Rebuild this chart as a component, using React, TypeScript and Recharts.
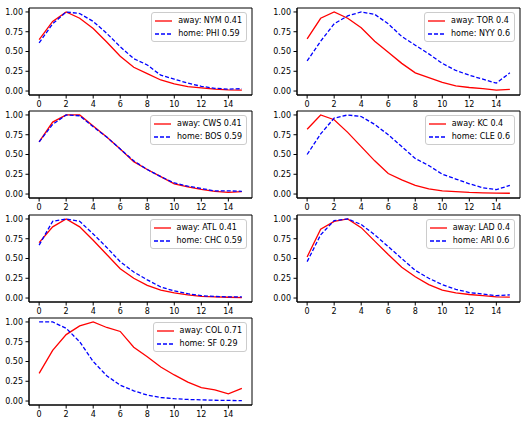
import React from 'react';
import { LineChart, Line, XAxis, YAxis, Legend, ReferenceArea } from 'recharts';

// innings / x positions
const innings = [0, 1, 2, 3, 4, 5, 6, 7, 8, 9, 10, 11, 12, 13, 14, 15];

const nymAway = [0.65, 0.88, 1.0, 0.92, 0.79, 0.62, 0.44, 0.3, 0.22, 0.14, 0.09, 0.055, 0.04, 0.025, 0.015, 0.012];
const phiHome = [0.61, 0.85, 1.0, 0.98, 0.88, 0.73, 0.56, 0.41, 0.33, 0.2, 0.15, 0.1, 0.06, 0.035, 0.025, 0.03];

const torAway = [0.66, 0.92, 1.0, 0.92, 0.8, 0.63, 0.49, 0.35, 0.23, 0.17, 0.11, 0.065, 0.045, 0.03, 0.012, 0.02];
const nyyHome = [0.38, 0.63, 0.85, 0.95, 1.0, 0.97, 0.85, 0.69, 0.58, 0.47, 0.35, 0.26, 0.2, 0.15, 0.1, 0.23];

const cwsAway = [0.66, 0.91, 1.0, 1.0, 0.86, 0.72, 0.57, 0.41, 0.31, 0.22, 0.13, 0.09, 0.06, 0.035, 0.02, 0.03];
const bosHome = [0.66, 0.88, 1.0, 0.99, 0.85, 0.72, 0.57, 0.42, 0.31, 0.22, 0.14, 0.1, 0.07, 0.04, 0.04, 0.035];

const kcAway = [0.82, 1.0, 0.94, 0.78, 0.6, 0.42, 0.26, 0.18, 0.11, 0.065, 0.04, 0.03, 0.02, 0.015, 0.012, 0.01];
const cleHome = [0.5, 0.76, 0.96, 1.0, 0.98, 0.88, 0.75, 0.6, 0.45, 0.36, 0.25, 0.19, 0.13, 0.08, 0.055, 0.11];

const atlAway = [0.7, 0.9, 1.0, 0.9, 0.73, 0.55, 0.37, 0.25, 0.16, 0.1, 0.065, 0.04, 0.02, 0.015, 0.01, 0.005];
const chcHome = [0.67, 0.97, 1.0, 0.97, 0.81, 0.64, 0.46, 0.33, 0.23, 0.14, 0.09, 0.055, 0.03, 0.02, 0.015, 0.015];

const ladAway = [0.52, 0.87, 0.97, 1.0, 0.89, 0.72, 0.55, 0.39, 0.27, 0.17, 0.1, 0.065, 0.045, 0.03, 0.015, 0.012];
const ariHome = [0.46, 0.8, 0.98, 1.0, 0.93, 0.8, 0.65, 0.5, 0.35, 0.25, 0.17, 0.11, 0.07, 0.05, 0.03, 0.04];

const colAway = [0.35, 0.64, 0.84, 0.95, 1.0, 0.93, 0.88, 0.68, 0.56, 0.43, 0.33, 0.24, 0.17, 0.14, 0.09, 0.16];
const sfHome = [1.0, 1.0, 0.92, 0.75, 0.5, 0.32, 0.2, 0.13, 0.075, 0.045, 0.03, 0.02, 0.015, 0.01, 0.008, 0.005];

const xTicks = [0, 2, 4, 6, 8, 10, 12, 14];
const yTicks = [0, 0.25, 0.5, 0.75, 1.0];

const panels = [
  { away: 'NYM', awayP: 0.41, home: 'PHI', homeP: 0.59, a: nymAway, h: phiHome },
  { away: 'TOR', awayP: 0.4, home: 'NYY', homeP: 0.6, a: torAway, h: nyyHome },
  { away: 'CWS', awayP: 0.41, home: 'BOS', homeP: 0.59, a: cwsAway, h: bosHome },
  { away: 'KC', awayP: 0.4, home: 'CLE', homeP: 0.6, a: kcAway, h: cleHome },
  { away: 'ATL', awayP: 0.41, home: 'CHC', homeP: 0.59, a: atlAway, h: chcHome },
  { away: 'LAD', awayP: 0.4, home: 'ARI', homeP: 0.6, a: ladAway, h: ariHome },
  { away: 'COL', awayP: 0.71, home: 'SF', homeP: 0.29, a: colAway, h: sfHome },
];

const FONT = '"DejaVu Sans", sans-serif';
const CHART_W = 256;
const CHART_H = 104;
const colLeft = [0, 268];
const rowTop = [4, 107, 211, 314];

const tickStyle = { fontSize: 8, fill: '#000', fontFamily: FONT };

const LegendBox = ({ payload }: any) => (
  <div
    style={{
      border: '1px solid #cccccc',
      borderRadius: 3,
      background: 'rgba(255,255,255,0.8)',
      padding: '1px 4px 1px 3px',
      fontFamily: FONT,
      fontSize: 8,
      color: '#000',
      whiteSpace: 'nowrap',
    }}
  >
    {(payload || []).map((p: any) => (
      <div key={p.value} style={{ display: 'flex', alignItems: 'center', height: 13 }}>
        <svg width={17} height={4} style={{ marginRight: 6 }}>
          <line
            x1={0}
            y1={2}
            x2={17}
            y2={2}
            stroke={p.color}
            strokeWidth={1.3}
            strokeDasharray={p.payload?.strokeDasharray}
          />
        </svg>
        <span>{p.value}</span>
      </div>
    ))}
  </div>
);

const Panel = ({ panel, idx }: { panel: any; idx: number }) => {
  const data = innings.map((x, i) => ({ x, away: panel.a[i], home: panel.h[i] }));
  return (
    <div style={{ position: 'absolute', left: colLeft[idx % 2], top: rowTop[Math.floor(idx / 2)] }}>
      <LineChart width={CHART_W} height={CHART_H} data={data} margin={{ top: 4, right: 4, bottom: 0, left: 0 }}>
        <XAxis
          dataKey="x"
          type="number"
          domain={[-0.75, 15.75]}
          ticks={xTicks}
          allowDataOverflow
          height={13}
          tick={tickStyle}
          tickSize={3.5}
          tickMargin={3}
          stroke="#000"
          interval={0}
        />
        <YAxis
          type="number"
          domain={[-0.05, 1.05]}
          ticks={yTicks}
          allowDataOverflow
          width={29}
          tick={tickStyle}
          tickSize={3.5}
          tickMargin={2.5}
          stroke="#000"
          interval={0}
          tickFormatter={(v: number) => v.toFixed(2)}
        />
        <ReferenceArea x1={-0.75} x2={15.75} y1={-0.05} y2={1.05} fill="none" stroke="#000" strokeWidth={1} />
        <Line
          dataKey="away"
          name={`away: ${panel.away} ${panel.awayP}`}
          type="linear"
          stroke="#ff0000"
          strokeWidth={1.3}
          dot={false}
          isAnimationActive={false}
        />
        <Line
          dataKey="home"
          name={`home: ${panel.home} ${panel.homeP}`}
          type="linear"
          stroke="#0000ff"
          strokeWidth={1.3}
          strokeDasharray="4 2"
          dot={false}
          isAnimationActive={false}
        />
        <Legend
          layout="vertical"
          align="center"
          verticalAlign="middle"
          content={<LegendBox />}
          wrapperStyle={{ top: 8, right: 9, left: 'auto', width: 'auto' }}
        />
      </LineChart>
    </div>
  );
};

export default function App() {
  return (
    <div style={{ position: 'absolute', left: 0, top: 0, width: 528, height: 424, background: '#fff' }}>
      {panels.map((p, i) => (
        <Panel key={p.away} panel={p} idx={i} />
      ))}
    </div>
  );
}
